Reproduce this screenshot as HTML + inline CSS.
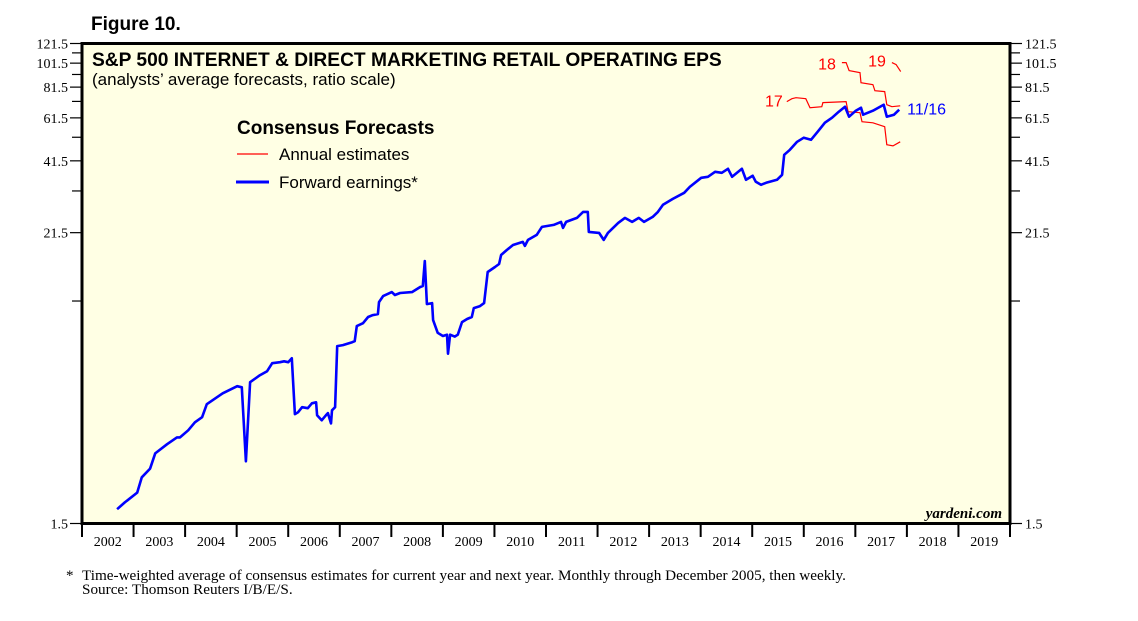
<!DOCTYPE html>
<html><head><meta charset="utf-8"><style>
html,body{margin:0;padding:0;background:#fff;}
svg{display:block;}
.sans{font-family:"Liberation Sans",sans-serif;}
.serif{font-family:"Liberation Serif",serif;}
</style></head><body>
<svg id="chart" width="1138" height="621" viewBox="0 0 1138 621">
<rect x="82" y="43.5" width="928" height="480" fill="#ffffe4"/>
<g id="axes"></g>
<g id="series"></g>
<rect x="82" y="43.5" width="928" height="480" fill="none" stroke="#000" stroke-width="3"/>
<text x="91" y="30" class="sans" font-size="19" font-weight="bold">Figure 10.</text>
<text x="92" y="66" class="sans" font-size="19.2" font-weight="bold">S&amp;P 500 INTERNET &amp; DIRECT MARKETING RETAIL OPERATING EPS</text>
<text x="92" y="85" class="sans" font-size="17">(analysts’ average forecasts, ratio scale)</text>
<text x="237" y="134" class="sans" font-size="19" font-weight="bold">Consensus Forecasts</text>
<line x1="237" y1="154" x2="268" y2="154" stroke="#f00" stroke-width="1.2"/>
<text x="279" y="160" class="sans" font-size="17">Annual estimates</text>
<line x1="236" y1="182" x2="269" y2="182" stroke="#00f" stroke-width="3"/>
<text x="279" y="188" class="sans" font-size="17">Forward earnings*</text>
<text x="1002" y="518" class="serif" font-size="15" font-weight="bold" font-style="italic" text-anchor="end">yardeni.com</text>
<text x="66" y="580" class="serif" font-size="15">*</text>
<text x="82" y="580" class="serif" font-size="15.2">Time-weighted average of consensus estimates for current year and next year. Monthly through December 2005, then weekly.</text>
<text x="82" y="594" class="serif" font-size="15.2">Source: Thomson Reuters I/B/E/S.</text>
</svg>
<script>
const yearLabels = [2002,2003,2004,2005,2006,2007,2008,2009,2010,2011,2012,2013,2014,2015,2016,2017,2018,2019];
const yTickLabels = [1.5,21.5,41.5,61.5,81.5,101.5,121.5];
const yMinorTicks = [11.5,31.5,51.5,71.5,91.5,111.5];
const fwdDates = [2002.68,2002.83,2003.07,2003.16,2003.32,2003.42,2003.65,2003.84,2003.90,2004.06,2004.19,2004.33,2004.42,2004.73,2005.01,2005.10,2005.18,2005.26,2005.45,2005.59,2005.69,2005.84,2005.92,2006.00,2006.07,2006.13,2006.19,2006.27,2006.38,2006.46,2006.54,2006.56,2006.65,2006.73,2006.77,2006.83,2006.85,2006.91,2006.95,2007.06,2007.24,2007.29,2007.33,2007.45,2007.55,2007.64,2007.74,2007.76,2007.84,2008.01,2008.07,2008.17,2008.40,2008.56,2008.61,2008.65,2008.69,2008.79,2008.81,2008.90,2009.00,2009.08,2009.10,2009.14,2009.23,2009.29,2009.37,2009.47,2009.56,2009.60,2009.72,2009.80,2009.87,2010.01,2010.09,2010.13,2010.24,2010.36,2010.55,2010.59,2010.65,2010.82,2010.92,2011.15,2011.29,2011.33,2011.39,2011.60,2011.72,2011.81,2011.83,2012.03,2012.12,2012.20,2012.40,2012.53,2012.67,2012.80,2012.90,2013.07,2013.17,2013.27,2013.46,2013.68,2013.79,2014.01,2014.14,2014.28,2014.41,2014.53,2014.61,2014.80,2014.88,2015.01,2015.07,2015.17,2015.27,2015.48,2015.58,2015.62,2015.73,2015.87,2016.00,2016.14,2016.27,2016.41,2016.55,2016.68,2016.80,2016.88,2017.01,2017.11,2017.15,2017.34,2017.55,2017.61,2017.75,2017.85];
const fwdValues = [1.71,1.82,1.99,2.29,2.48,2.85,3.10,3.30,3.30,3.52,3.79,3.97,4.47,4.94,5.27,5.22,2.65,5.47,5.83,6.05,6.51,6.57,6.62,6.57,6.81,4.08,4.15,4.35,4.31,4.51,4.55,4.04,3.86,4.04,4.12,3.75,4.23,4.35,7.61,7.68,7.89,7.96,9.14,9.39,9.93,10.11,10.20,11.39,12.03,12.48,12.15,12.37,12.48,13.07,13.19,16.59,11.18,11.28,9.66,8.6,8.35,8.45,7.1,8.45,8.3,8.45,9.48,9.75,9.93,10.78,10.98,11.28,15.0,15.70,16.14,17.53,18.35,19.21,19.75,19.04,20.12,21.06,22.66,23.09,23.73,22.46,23.73,24.62,26.01,26.01,21.65,21.45,20.12,21.45,23.52,24.62,23.73,24.62,23.73,24.85,26.01,27.74,29.30,30.96,32.70,35.53,35.86,37.54,37.20,38.58,35.86,38.58,34.88,36.19,34.24,33.31,33.93,34.88,36.51,43.86,45.93,49.42,51.28,50.33,54.18,58.83,61.59,65.07,68.14,62.16,65.67,67.52,63.32,65.67,69.38,62.16,63.32,66.27];
const est17Dates = [2015.67,2015.77,2015.85,2016.04,2016.12,2016.35,2016.37,2016.82,2016.86,2017.09,2017.13,2017.34,2017.57,2017.61,2017.73,2017.87];
const est17Values = [71.4,73.3,74.0,73.3,67.5,68.1,70.7,71.4,65.1,64.5,59.4,58.8,56.7,48.1,47.6,49.4];
const est18Dates = [2016.74,2016.82,2016.88,2017.09,2017.11,2017.34,2017.38,2017.57,2017.61,2017.71,2017.87];
const est18Values = [102.0,102.0,94.8,93.1,84.9,83.4,78.9,78.2,69.4,68.1,68.7];
const est19Dates = [2017.71,2017.79,2017.88];
const est19Values = [102.0,100.2,93.9];

const X0=82, X1=1010, Y0=523.5, Y1=43.5, VMIN=1.5, VMAX=121.5;
function xs(t){return X0+(t-2002)/18*(X1-X0);}
function ys(v){return Y0-Math.log(v/VMIN)/Math.log(VMAX/VMIN)*(Y0-Y1);}
const NS='http://www.w3.org/2000/svg';
const axes=document.getElementById('axes'), series=document.getElementById('series');
function mk(tag,attrs,parent,txt){const e=document.createElementNS(NS,tag);for(const k in attrs)e.setAttribute(k,attrs[k]);if(txt!==undefined)e.textContent=txt;parent.appendChild(e);return e;}

yTickLabels.forEach(v=>{
  const y=ys(v);
  let t=mk('line',{x1:70,y1:y,x2:82,y2:y,stroke:'#000','stroke-width':1.2},axes);
  
  
  t=mk('line',{x1:1010,y1:y,x2:1022,y2:y,stroke:'#000','stroke-width':1.2},axes);
  
  
  let l=mk('text',{x:68,y:y+5,'text-anchor':'end','font-size':14,'class':'serif'},axes,String(v));
  
  
  l=mk('text',{x:1025,y:y+5,'font-size':14,'class':'serif'},axes,String(v));
  
  
});
yMinorTicks.forEach(v=>{
  const y=ys(v);
  let t=mk('line',{x1:72,y1:y,x2:82,y2:y,stroke:'#000','stroke-width':1.2},axes);
  
  
  t=mk('line',{x1:1010,y1:y,x2:1020,y2:y,stroke:'#000','stroke-width':1.2},axes);
  
  
});
yearLabels.forEach((yr,i)=>{
  const x=xs(yr);
  if(i>0){
    const t=mk('line',{x1:x,y1:525,x2:x,y2:537,stroke:'#000','stroke-width':2},axes);
    
    
  }
  const l=mk('text',{x:xs(yr+0.5),y:546,'text-anchor':'middle','font-size':14,'class':'serif'},axes,String(yr));
  
  
});
[X0,X1].forEach(x=>{
  const t=mk('line',{x1:x,y1:525,x2:x,y2:537,stroke:'#000','stroke-width':2},axes);
  
  
});
function path(dates,vals){return dates.map((d,i)=>(i?'L':'M')+xs(d).toFixed(1)+','+ys(vals[i]).toFixed(1)).join(' ');}
let p=mk('path',{d:path(est17Dates,est17Values),fill:'none',stroke:'#f00','stroke-width':1.2},series);


p=mk('path',{d:path(est18Dates,est18Values),fill:'none',stroke:'#f00','stroke-width':1.2},series);


p=mk('path',{d:path(est19Dates,est19Values),fill:'none',stroke:'#f00','stroke-width':1.2},series);


p=mk('path',{d:path(fwdDates,fwdValues),fill:'none',stroke:'#00f','stroke-width':2.6,'stroke-linejoin':'round'},series);


let lb=mk('text',{x:xs(est17Dates[0])-4,y:ys(est17Values[0])+5,'text-anchor':'end','font-size':16,fill:'#f00','class':'sans'},series,'17');


lb=mk('text',{x:xs(est18Dates[0])-6,y:ys(est18Values[0])+7,'text-anchor':'end','font-size':16,fill:'#f00','class':'sans'},series,'18');


lb=mk('text',{x:xs(est19Dates[0])-6,y:ys(est19Values[0])+4,'text-anchor':'end','font-size':16,fill:'#f00','class':'sans'},series,'19');


const n=fwdDates.length-1;
lb=mk('text',{x:xs(fwdDates[n])+8,y:ys(fwdValues[n])+5,'font-size':16,fill:'#00f','class':'sans'},series,'11/16');


</script>
</body></html>
